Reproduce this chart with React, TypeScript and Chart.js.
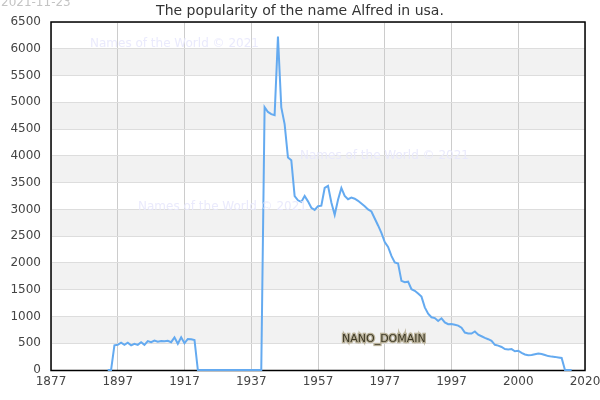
import React, { useEffect, useRef } from "react";
import { Chart, registerables } from "chart.js";

Chart.register(...registerables);

const TITLE = "The popularity of the name Alfred in usa.";
const DATE_LABEL = "2021-11-23";
const WATERMARK = "Names of the World © 2021";
const DOMAIN_LABEL = "NANO_DOMAIN";

// x tick labels, one every 20 positions along the axis
const xTickLabels = ["1877", "1897", "1917", "1937", "1957", "1977", "1997", "2000", "2020"];
const xStep = 20;
const xMax = 160;
const yMax = 6500;
const yStep = 500;

// first axis position that carries a value
const startIndex = 17;
// popularity values, one per axis position from startIndex
const popularity = [
  0, 0, 460, 470, 510, 470, 510, 460, 490, 470, 520, 470, 540, 520, 550, 530, 540, 535, 545, 520,
  610, 490, 610, 500, 580, 575, 560, 0, 0, 0, 0, 0, 0, 0, 0, 0, 0, 0, 0, 0,
  0, 0, 0, 0, 0, 0, 0, 4910, 4820, 4780, 4760, 6230, 4906, 4593, 3969, 3918, 3250, 3170, 3140, 3250,
  3150, 3030, 2990, 3060, 3070, 3400, 3440, 3130, 2900, 3180, 3400, 3250, 3190, 3220, 3200, 3160, 3110, 3060, 3000, 2960,
  2830, 2700, 2560, 2390, 2300, 2130, 2010, 1990, 1665, 1640, 1650, 1510, 1480, 1430, 1370, 1170, 1050, 985, 970, 915,
  965, 890, 855, 858, 845, 830, 790, 700, 682, 682, 720, 660, 630, 600, 575, 545, 470, 455, 430, 390,
  385, 390, 350, 360, 320, 290, 275, 280, 295, 310, 300, 280, 260, 250, 245, 235, 225, 0, 0, 0,
];

const decorPlugin = {
  id: "decor",
  beforeDraw(chart: any) {
    const { ctx, chartArea, scales } = chart;
    const y = scales.y;
    ctx.save();
    ctx.fillStyle = "#ffffff";
    ctx.fillRect(0, 0, chart.width, chart.height);
    ctx.fillStyle = "#f2f2f2";
    for (let v = yStep; v < yMax; v += 2 * yStep) {
      const top = y.getPixelForValue(v + yStep);
      const bot = y.getPixelForValue(v);
      ctx.fillRect(chartArea.left, top, chartArea.right - chartArea.left, bot - top);
    }
    ctx.restore();
  },
  beforeDatasetsDraw(chart: any) {
    const { ctx, chartArea } = chart;
    ctx.save();
    ctx.strokeStyle = "#000000";
    ctx.lineWidth = 1.5;
    ctx.strokeRect(chartArea.left, chartArea.top, chartArea.right - chartArea.left, chartArea.bottom + 0.5 - chartArea.top);
    ctx.restore();
  },
  afterDatasetsDraw(chart: any) {
    const { ctx } = chart;
    ctx.save();
    // watermarks
    ctx.font = "12px 'DejaVu Sans', sans-serif";
    ctx.fillStyle = "rgba(232,232,252,0.9)";
    ctx.textBaseline = "middle";
    ctx.textAlign = "left";
    ctx.fillText(WATERMARK, 90, 44);
    ctx.fillText(WATERMARK, 300, 156);
    ctx.fillText(WATERMARK, 138, 207);
    // domain label
    ctx.font = "11px 'DejaVu Sans', sans-serif";
    ctx.lineWidth = 2.5;
    ctx.strokeStyle = "#b8b098";
    ctx.strokeText(DOMAIN_LABEL, 342, 339);
    ctx.fillStyle = "#3c3826";
    ctx.fillText(DOMAIN_LABEL, 342, 339);
    // date
    ctx.font = "12px 'DejaVu Sans', sans-serif";
    ctx.fillStyle = "#c4c4c4";
    ctx.textAlign = "left";
    ctx.fillText(DATE_LABEL, 1, 3);
    // title
    ctx.font = "14px 'DejaVu Sans', sans-serif";
    ctx.fillStyle = "#333333";
    ctx.textAlign = "center";
    ctx.fillText(TITLE, 300, 11);
    ctx.restore();
  },
};

export default function App() {
  const ref = useRef<HTMLCanvasElement | null>(null);
  useEffect(() => {
    document.body.style.margin = "0";
    if (!ref.current) return;
    const points = popularity.map((v, k) => ({ x: startIndex + k, y: v }));
    const chart = new Chart(ref.current, {
      type: "line",
      data: {
        datasets: [
          {
            data: points,
            borderColor: "#64aaf0",
            borderWidth: 2,
            pointRadius: 0,
            tension: 0,
            fill: false,
            clip: 4,
          },
        ],
      },
      options: {
        animation: false,
        responsive: false,
        maintainAspectRatio: false,
        layout: { padding: { top: 22, right: 0, left: 0, bottom: 0 } },
        plugins: { legend: { display: false }, tooltip: { enabled: false }, title: { display: false } },
        scales: {
          x: {
            type: "linear",
            min: 0,
            max: xMax,
            border: { display: false },
            grid: { color: "#cccccc", drawTicks: false, lineWidth: 1 },
            ticks: {
              stepSize: xStep,
              autoSkip: false,
              maxRotation: 0,
              padding: 5,
              color: "#444444",
              font: { family: "'DejaVu Sans', sans-serif", size: 12 },
              callback: (v: any) => xTickLabels[Math.round(Number(v) / xStep)] ?? "",
            },
            afterFit: (s: any) => {
              s.height = 30;
              s.paddingRight = 15;
            },
          },
          y: {
            min: 0,
            max: yMax,
            border: { display: false },
            grid: { color: "#dddddd", drawTicks: false, lineWidth: 1 },
            ticks: {
              stepSize: yStep,
              padding: 10,
              color: "#444444",
              font: { family: "'DejaVu Sans', sans-serif", size: 12 },
              callback: (v: any) => String(v),
            },
            afterFit: (s: any) => {
              s.width = 51;
            },
          },
        },
      },
      plugins: [decorPlugin],
    });
    return () => chart.destroy();
  }, []);
  return (
    <div style={{ position: "absolute", left: 0, top: 0, width: 600, height: 400 }}>
      <canvas ref={ref} width={600} height={400} style={{ width: 600, height: 400 }} />
    </div>
  );
}
